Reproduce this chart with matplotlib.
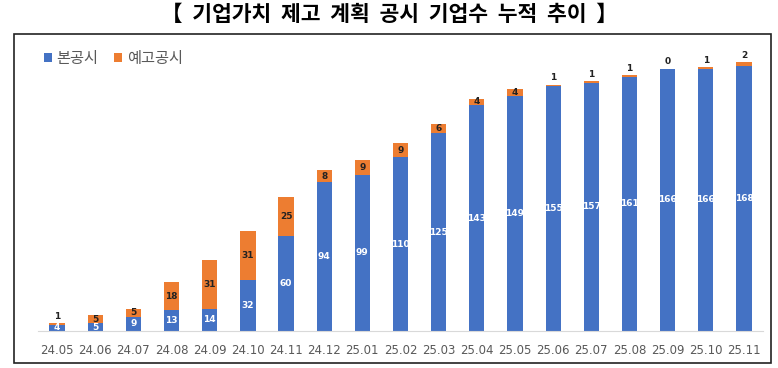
import matplotlib.pyplot as plt
from matplotlib.patches import Rectangle
import numpy as np

plt.rcParams["font.family"] = ["Noto Sans CJK KR", "DejaVu Sans"]

months = ["24.05", "24.06", "24.07", "24.08", "24.09", "24.10", "24.11", "24.12", "25.01",
          "25.02", "25.03", "25.04", "25.05", "25.06", "25.07", "25.08", "25.09", "25.10", "25.11"]
main_disclosure = [4, 5, 9, 13, 14, 32, 60, 94, 99, 110, 125, 143, 149, 155, 157, 161, 166, 166, 168]
pre_disclosure = [1, 5, 5, 18, 31, 31, 25, 8, 9, 9, 6, 4, 4, 1, 1, 1, 0, 1, 2]

BLUE = "#4472C4"
ORANGE = "#ED7D31"

fig = plt.figure(figsize=(7.78, 3.68), dpi=100)
W, H = 778, 368

# outer frame
fig.patches.append(Rectangle((14 / W, 1 - 363 / H), (771 - 14) / W, (363 - 34) / H,
                             transform=fig.transFigure, fill=False, edgecolor="#222222",
                             linewidth=1.2))

fig.text(0.5, 1 - 14 / H, "【  기업가치  제고  계획  공시  기업수  누적  추이  】",
         ha="center", va="center", fontsize=15.5, fontweight="bold")

ax = fig.add_axes([38 / W, 1 - 331 / H, (763 - 38) / W, (331 - 45) / H])
x = np.arange(len(months))
ax.bar(x, main_disclosure, width=0.4, color=BLUE, label="본공시")
ax.bar(x, pre_disclosure, width=0.4, bottom=main_disclosure, color=ORANGE, label="예고공시")

for xi, m, p in zip(x, main_disclosure, pre_disclosure):
    ax.text(xi, m / 2, str(m), ha="center", va="center", color="white",
            fontsize=6.5, fontweight="bold", family="DejaVu Sans")
    if p <= 2:
        ax.text(xi, m + p + 1.5, str(p), ha="center", va="bottom", color="#222222",
                fontsize=6.5, fontweight="bold", family="DejaVu Sans")
    else:
        ax.text(xi, m + p / 2, str(p), ha="center", va="center", color="#222222",
                fontsize=6.5, fontweight="bold", family="DejaVu Sans")

ax.set_xlim(-0.5, len(months) - 0.5)
ax.set_ylim(0, 181)
ax.set_xticks(x)
ax.set_xticklabels(months, color="#595959", fontsize=8.5, family="DejaVu Sans")
ax.tick_params(axis="x", length=0, pad=9)
ax.set_yticks([])
for side in ["top", "right", "left"]:
    ax.spines[side].set_visible(False)
ax.spines["bottom"].set_color("#D9D9D9")

ax.legend(loc="upper left", bbox_to_anchor=(-0.005, 1.015), ncol=2, frameon=False,
          fontsize=11, labelcolor="#595959", handlelength=0.55, handleheight=0.55,
          handletextpad=0.3, columnspacing=1.0, borderaxespad=0.2)

fig.savefig("out.png", dpi=100)
